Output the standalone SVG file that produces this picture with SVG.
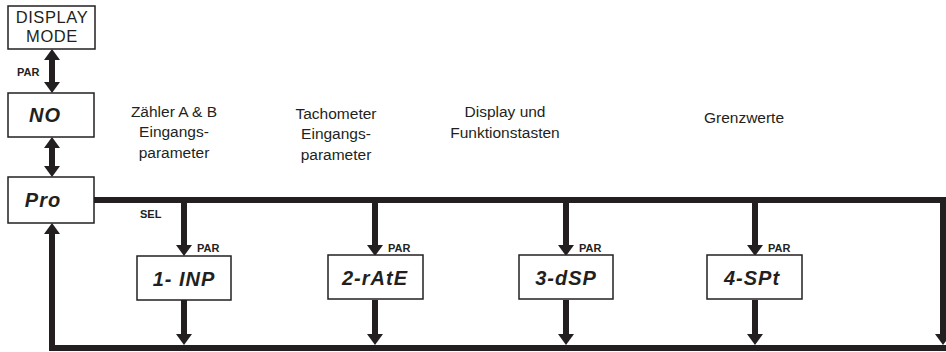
<svg xmlns="http://www.w3.org/2000/svg" width="946" height="352" viewBox="0 0 946 352">
<style>
.box{fill:#fff;stroke:#231f20;stroke-width:1.5}
.seg{font-family:"Liberation Sans",Arial,sans-serif;font-weight:bold;font-style:italic;font-size:20px;fill:#231f20;text-anchor:middle;letter-spacing:1px}
.mode{font-family:"Liberation Sans",Arial,sans-serif;font-size:16.5px;fill:#231f20;text-anchor:middle;letter-spacing:0.6px}
.lbl{font-family:"Liberation Sans",Arial,sans-serif;font-size:15.5px;fill:#231f20;text-anchor:middle}
.sm{font-family:"Liberation Sans",Arial,sans-serif;font-size:11px;font-weight:bold;fill:#231f20}
.ln{stroke:#231f20;stroke-width:6;fill:none}
.ah{fill:#231f20}
</style>
<defs>
<path id="down" d="M-8,-11 L8,-11 L0,0 Z"/>
<path id="up" d="M-8,11 L8,11 L0,0 Z"/>
</defs>
<g id="connectors">
<line class="ln" x1="52" y1="58" x2="52" y2="84"/>
<use href="#up" class="ah" x="52" y="49"/>
<use href="#down" class="ah" x="52" y="93"/>
<line class="ln" x1="52" y1="146" x2="52" y2="168"/>
<use href="#up" class="ah" x="52" y="137"/>
<use href="#down" class="ah" x="52" y="177"/>
<line class="ln" x1="94" y1="200" x2="946" y2="200"/>
<line class="ln" x1="943" y1="197" x2="943" y2="338"/>
<use href="#down" class="ah" x="943" y="345"/>
<line class="ln" x1="49" y1="348" x2="946" y2="348"/>
<line class="ln" x1="52" y1="351" x2="52" y2="232"/>
<use href="#up" class="ah" x="52" y="223"/>
<line class="ln" x1="184" y1="200" x2="184" y2="246"/>
<use href="#down" class="ah" x="184" y="256"/>
<line class="ln" x1="184" y1="300" x2="184" y2="336"/>
<use href="#down" class="ah" x="184" y="345"/>
<line class="ln" x1="375" y1="200" x2="375" y2="246"/>
<use href="#down" class="ah" x="375" y="256"/>
<line class="ln" x1="375" y1="300" x2="375" y2="336"/>
<use href="#down" class="ah" x="375" y="345"/>
<line class="ln" x1="566" y1="200" x2="566" y2="246"/>
<use href="#down" class="ah" x="566" y="256"/>
<line class="ln" x1="566" y1="300" x2="566" y2="336"/>
<use href="#down" class="ah" x="566" y="345"/>
<line class="ln" x1="755" y1="200" x2="755" y2="246"/>
<use href="#down" class="ah" x="755" y="256"/>
<line class="ln" x1="755" y1="300" x2="755" y2="336"/>
<use href="#down" class="ah" x="755" y="345"/>
<text class="sm" x="17" y="76">PAR</text>
<text class="sm" x="140" y="218">SEL</text>
<text class="sm" x="197" y="252">PAR</text>
<text class="sm" x="388" y="252">PAR</text>
<text class="sm" x="579" y="252">PAR</text>
<text class="sm" x="768" y="252">PAR</text>
</g>
<g id="display-mode">
<rect class="box" x="8" y="6" width="87" height="43"/>
<text class="mode" x="52" y="23">DISPLAY</text>
<text class="mode" x="52" y="42">MODE</text>
</g>
<g id="no">
<rect class="box" x="8" y="93" width="86" height="44"/>
<text class="seg" x="45" y="122">NO</text>
</g>
<g id="pro">
<rect class="box" x="8" y="177" width="86" height="46"/>
<text class="seg" x="43" y="207">Pro</text>
</g>
<g id="inp">
<rect class="box" x="137" y="256" width="94" height="44"/>
<text class="seg" x="184" y="286">1- INP</text>
</g>
<g id="rate">
<rect class="box" x="328" y="255" width="95" height="44"/>
<text class="seg" x="375" y="285">2-rAtE</text>
</g>
<g id="dsp">
<rect class="box" x="519" y="255" width="94" height="44"/>
<text class="seg" x="566" y="285">3-dSP</text>
</g>
<g id="spt">
<rect class="box" x="707" y="255" width="95" height="44"/>
<text class="seg" x="752" y="285">4-SPt</text>
</g>
<g id="labels">
<text class="lbl" x="174" y="117">Zähler A &amp; B</text>
<text class="lbl" x="174" y="137">Eingangs-</text>
<text class="lbl" x="174" y="158">parameter</text>
<text class="lbl" x="336" y="119">Tachometer</text>
<text class="lbl" x="336" y="139">Eingangs-</text>
<text class="lbl" x="336" y="160">parameter</text>
<text class="lbl" x="505" y="117">Display und</text>
<text class="lbl" x="505" y="138">Funktionstasten</text>
<text class="lbl" x="744" y="123">Grenzwerte</text>
</g>
</svg>
